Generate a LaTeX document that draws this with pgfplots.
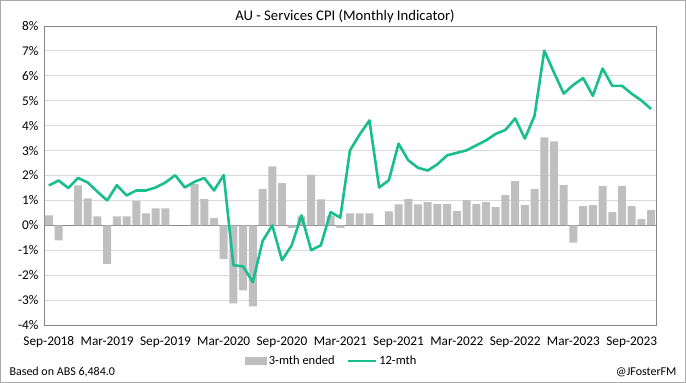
\documentclass[border=0pt]{standalone}
\usepackage{pgfplots}
\pgfplotsset{compat=1.18}
\usepackage{fontspec}
\setmainfont{Carlito}
\definecolor{barg}{RGB}{191,191,191}
\definecolor{linegreen}{RGB}{24,190,140}
\definecolor{gridg}{RGB}{217,217,217}
\definecolor{axg}{RGB}{134,134,134}
\begin{document}
\begin{tikzpicture}
\useasboundingbox (0pt,0pt) rectangle (686pt,-383pt);
\draw[axg!70, line width=1pt] (0.5pt,-0.5pt) rectangle (685.5pt,-382.5pt);
\node[font=\fontsize{14.7}{17}\selectfont, anchor=base] at (345pt,-20.5pt) {AU - Services CPI (Monthly Indicator)};
\node[font=\fontsize{12}{14}\selectfont, anchor=base west] at (6pt,-375pt) {Based on ABS 6,484.0};
\node[font=\fontsize{12}{14}\selectfont, anchor=base east] at (680pt,-375pt) {@JFosterFM};
\begin{axis}[
  at={(44pt,-325pt)}, anchor=south west,
  scale only axis, width=612pt, height=299pt,
  xmin=-0.5, xmax=62.5, ymin=-4, ymax=8,
  xtick={0,6,...,60},
  xticklabels={Sep-2018,Mar-2019,Sep-2019,Mar-2020,Sep-2020,Mar-2021,Sep-2021,Mar-2022,Sep-2022,Mar-2023,Sep-2023},
  ytick={-4,-3,...,8},
  yticklabels={-4\%,-3\%,-2\%,-1\%,0\%,1\%,2\%,3\%,4\%,5\%,6\%,7\%,8\%},
  major tick length=0pt,
  tick label style={font=\fontsize{13.3}{15}\selectfont},
  ymajorgrids, grid style={gridg, line width=0.9pt},
  axis line style={axg, line width=0.9pt},
  extra y ticks={0}, extra y tick labels={},
  extra y tick style={grid style={axg, line width=0.9pt}},
  xticklabel style={yshift=-8pt},
  yticklabel style={xshift=-2pt},
  legend columns=2,
  legend style={at={(0.47,-0.12)}, anchor=center, draw=none, fill=none,
    font=\fontsize{12.5}{14}\selectfont,
    /tikz/every even column/.append style={column sep=10pt}},
]
\addplot[ybar, bar width=0.82, fill=barg, draw=none,
  legend image code/.code={\fill[barg] (0pt,-4pt) rectangle (22pt,4pt);}]
coordinates {
(0,0.4) (1,-0.6) (3,1.6) (4,1.08) (5,0.36) (6,-1.55) (7,0.36) (8,0.36) (9,0.97)
(10,0.48) (11,0.68) (12,0.68) (15,1.65) (16,1.05) (17,0.29) (18,-1.35) (19,-3.13)
(20,-2.61) (21,-3.25) (22,1.45) (23,2.37) (24,1.69) (25,-0.1) (26,0.36) (27,2.04)
(28,1.04) (29,0.38) (30,-0.1) (31,0.48) (32,0.48) (33,0.48) (35,0.56) (36,0.84)
(37,1.05) (38,0.84) (39,0.93) (40,0.85) (41,0.85) (42,0.57) (43,1.01) (44,0.85)
(45,0.93) (46,0.73) (47,1.21) (48,1.77) (49,0.81) (50,1.45) (51,3.53) (52,3.37)
(53,1.61) (54,-0.69) (55,0.77) (56,0.81) (57,1.57) (58,0.53) (59,1.57) (60,0.77)
(61,0.25) (62,0.61)
};
\addlegendentry{3-mth ended}
\addplot[linegreen, line width=2.6pt, line join=round,
  legend image code/.code={\draw[linegreen, line width=2.6pt] (0pt,0pt) -- (28pt,0pt);}]
coordinates {
(0,1.6) (1,1.8) (2,1.5) (3,1.9) (4,1.72) (5,1.35) (6,1.0) (7,1.61) (8,1.2) (9,1.4)
(10,1.4) (11,1.52) (12,1.72) (13,2.01) (14,1.52) (15,1.75) (16,1.9) (17,1.4) (18,2.02)
(19,-1.6) (20,-1.65) (21,-2.28) (22,-0.63) (23,0.0) (24,-1.4) (25,-0.8) (26,0.4)
(27,-1.0) (28,-0.8) (29,0.53) (30,0.31) (31,3.01) (32,3.65) (33,4.21) (34,1.52)
(35,1.81) (36,3.28) (37,2.61) (38,2.31) (39,2.2) (40,2.45) (41,2.81) (42,2.91)
(43,3.01) (44,3.21) (45,3.41) (46,3.67) (47,3.83) (48,4.29) (49,3.48) (50,4.4)
(51,7.01) (52,6.13) (53,5.29) (54,5.64) (55,5.91) (56,5.2) (57,6.29) (58,5.6)
(59,5.6) (60,5.28) (61,5.01) (62,4.67)
};
\addlegendentry{12-mth}
\end{axis}
\end{tikzpicture}
\end{document}
